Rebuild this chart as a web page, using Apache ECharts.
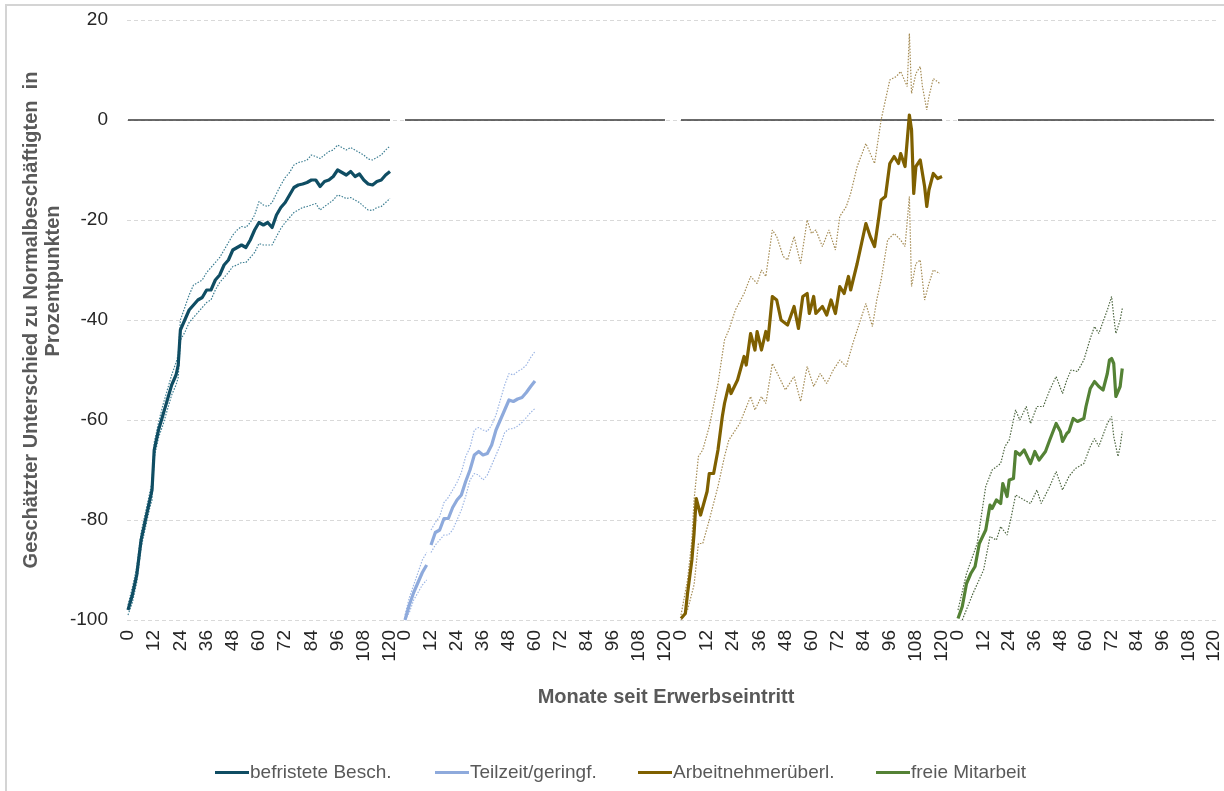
<!DOCTYPE html>
<html>
<head>
<meta charset="utf-8">
<script src="https://cdn.jsdelivr.net/npm/echarts@6/dist/echarts.min.js"></script>
<style>
html,body{margin:0;padding:0;background:#fff;}
#chart{width:1224px;height:791px;}
</style>
</head>
<body>
<div id="chart"></div>
<script>
// ---------- data ----------
const seriesNames = ['befristete Besch.', 'Teilzeit/geringf.', 'Arbeitnehmerüberl.', 'freie Mitarbeit'];
const yTicks = [-100, -80, -60, -40, -20, 0, 20];
const xTicks = [0, 12, 24, 36, 48, 60, 72, 84, 96, 108, 120];

// Panel 1: befristete Besch.
const months1 = [0,2,4,6,8,10,11,12,14,16,18,20,22,23,24,26,28,30,32,34,36,38,40,42,44,46,48,50,52,54,56,58,60,62,64,66,68,70,72,74,76,78,80,82,84,86,88,90,92,94,96,98,100,102,104,106,108,110,112,114,116,118,120];
const mid1 = [-98,-95,-91,-84,-80,-76,-74,-66,-62,-59,-56,-53,-51,-49,-42,-40,-38,-37,-36,-35.5,-34,-34,-32,-31,-29,-28,-26,-25.5,-25,-25.5,-24,-22,-20.5,-21,-20.5,-21.5,-19,-17.5,-16.5,-15,-13.5,-13,-12.8,-12.5,-12,-12,-13.3,-12.3,-12,-11.3,-10,-10.5,-11,-10.3,-11.3,-10.8,-12,-12.8,-13,-12.3,-12,-11,-10.3];
const up1 = [-97,-93.5,-89.5,-82.5,-78.5,-74.5,-72.5,-64.5,-60.5,-57,-54,-51,-48.5,-47,-40,-37.5,-35,-33,-32.5,-32,-30.5,-29.5,-28.5,-27.5,-26,-24.5,-23,-22,-21.3,-21.5,-20.5,-19,-16.3,-17,-17.3,-16.5,-14.7,-13,-11.5,-10.5,-9,-8.5,-8.3,-8,-7,-7.3,-7.7,-7,-6.3,-6,-5,-5.5,-6,-5.5,-6,-6.5,-7,-7.8,-8,-7.5,-7,-6,-5.2];
const lo1 = [-99,-96.5,-92.5,-85.5,-81.5,-77.5,-76,-67.5,-63.5,-61,-58,-55,-53,-51.5,-44,-42.5,-40.5,-39.5,-38.5,-37.5,-36.5,-36,-34,-32.5,-31.5,-30.5,-29.3,-29,-28.5,-28.5,-27.5,-26.5,-24.7,-25,-25,-25,-23.3,-21.7,-20.5,-19.5,-18.5,-18,-17.5,-17.3,-17,-16.7,-18,-17.3,-16.7,-16,-15,-15.3,-15.7,-15.5,-16,-16.5,-17.3,-18,-18.1,-17.5,-17.3,-16.5,-15.7];

// Panel 2: Teilzeit/geringf.
const months2 = [0,2,4,6,8,10,11,12,14,16,18,20,22,24,26,28,30,32,34,36,38,40,42,44,46,48,50,52,54,56,58,60];
const mid2 = [-100,-97,-94.5,-92.5,-90.5,-89,null,-85,-82.5,-82,-79.7,-79.7,-77.5,-76,-75,-72.3,-70,-67,-66.3,-67,-66.7,-65,-62,-60,-58,-56,-56.3,-55.8,-55.5,-54.5,-53.3,-52.2];
const up2 = [-99,-95.5,-93,-90.5,-88,-86.5,null,-82,-80.5,-79.3,-76.5,-75.5,-74,-72.5,-70.5,-67.3,-65.5,-62,-61.5,-62,-62.3,-61,-59,-56,-53,-50.7,-51,-50.3,-49.8,-49,-47.5,-46.3];
const lo2 = [-100,-98.5,-96,-94.5,-93,-92,null,-86.5,-85,-84,-83,-83,-82,-80,-78,-75.3,-72,-70.7,-71,-72,-71,-69,-67,-65,-62.5,-61.8,-61.7,-61.2,-60.5,-59.5,-58.5,-57.7];

// Panel 3: Arbeitnehmerüberl.
const months3 = [0,2,3,5,6,7,9,12,13,15,17,19,20,22,23,26,29,30,32,34,35,37,39,40,42,44,46,49,52,54,56,58,59,61,62,65,67,69,71,73,75,77,78,81,83,85,87,89,91,92,94,96,98,100,101,103,105,106,107,108,110,112,113,114,116,118,120];
const mid3 = [-99.7,-98.7,-94.7,-88,-82.7,-75.7,-79,-74.3,-70.7,-70.7,-66,-59.3,-56.7,-53,-54.7,-52,-47.3,-49,-42.7,-46,-42.3,-46,-42.3,-44,-35.3,-36,-40,-41,-37.3,-41.7,-35.3,-34.7,-38.7,-35.3,-38.7,-37.3,-39,-36,-38.7,-33.3,-34.7,-31.3,-34,-28.7,-24.7,-20.7,-23.3,-25.3,-19.3,-16,-15.3,-8.7,-7.3,-8.7,-6.7,-9.3,1,-2,-14.7,-9.3,-8,-13.3,-17.3,-14,-10.7,-11.7,-11.3];
const monthsUp3 = [0,3,5,6,8,10,13,17,20,22,25,29,32,35,37,39,42,44,47,49,52,55,58,60,62,65,68,71,73,76,78,81,85,89,92,96,99,101,104,105,106,108,110,111,113,114,116,119];
const up3 = [-99,-92,-84,-76,-67.3,-66,-61.3,-52.7,-44,-42,-38,-34.7,-31.3,-32.7,-30,-31.3,-22,-23.3,-27.3,-28,-23.3,-28.7,-20,-22.7,-22,-25.3,-22,-26,-19.3,-17.3,-14.7,-9.3,-4.7,-8.7,0,8,8.7,9.7,6.7,17.3,5.3,9.3,10.7,6.7,2,4.7,8.3,7.3];
const monthsLo3 = [0,3,6,8,10,13,17,20,22,27,32,34,37,39,42,45,48,52,55,58,61,64,67,70,73,76,79,82,85,88,90,92,95,98,101,103,105,106,108,110,112,114,116,119];
const lo3 = [-100,-98,-93,-84.7,-84.7,-80,-73.3,-67.3,-64,-60.7,-55.3,-58,-55.3,-56.7,-48.7,-51.3,-54,-51.3,-56.3,-49.3,-53.3,-50.7,-52.7,-50,-48,-49.3,-44.7,-40.7,-36.7,-41.3,-36,-32,-24,-22.7,-24,-25.3,-15.3,-33.3,-28.7,-28,-36,-32.7,-30,-30.7];

// Panel 4: freie Mitarbeit
const months4 = [0,2,4,6,8,10,13,15,16,18,20,21,23,24,26,27,29,31,34,36,38,41,43,46,48,49,51,52,54,56,59,60,62,64,66,68,70,71,72,73,74,76,77];
const mid4 = [-99.7,-97.3,-92.7,-90.7,-89.3,-84.7,-82,-77,-77.7,-76,-76.7,-72.7,-75.3,-72,-71.7,-66.3,-67,-66,-68.7,-66.3,-68,-66.3,-64,-60.7,-62.3,-64.3,-62.7,-62.3,-59.7,-60.3,-59.7,-57.3,-53.7,-52.3,-53.3,-54,-50.7,-48,-47.7,-48.7,-55.3,-53.3,-49.7];
const monthsUp4 = [0,4,9,13,16,20,22,24,27,29,32,34,37,40,43,46,49,51,53,56,59,62,64,66,70,72,73,74,76,77];
const up4 = [-98,-90.7,-84.7,-73.3,-70,-68.7,-65.3,-64,-58,-60,-57.3,-60.7,-57.3,-57.3,-54,-51.3,-54.7,-52,-50,-50.3,-48,-43.7,-41.3,-42.7,-38,-35.3,-39.3,-42.7,-40,-37.7];
const monthsLo4 = [2,7,12,15,18,20,23,25,27,31,34,37,39,43,46,49,52,55,59,62,64,66,70,72,73,75,76,77];
const lo4 = [-100,-94.7,-90,-83.3,-84,-81.3,-83,-79.3,-75,-76,-76.7,-74,-76.7,-73.3,-70.3,-74,-71.3,-69.7,-68.7,-65.3,-63.7,-65.3,-60.7,-59.3,-63.3,-67.3,-65.3,-62.3];

// ---------- build ----------
function pairs(xs, ys) { return xs.map((x, i) => [x, ys[i]]); }

const FONT = 'Liberation Sans, Arial, sans-serif';
const mainColors = ['#0F4D63', '#8EAADC', '#7F6000', '#548235'];
const bandColors = ['#3E7F93', '#9DB6E4', '#A58C55', '#4D6640'];

const panels = [
  {mid: pairs(months1, mid1), up: pairs(months1, up1), lo: pairs(months1, lo1)},
  {mid: pairs(months2, mid2), up: pairs(months2, up2), lo: pairs(months2, lo2)},
  {mid: pairs(months3, mid3), up: pairs(monthsUp3, up3), lo: pairs(monthsLo3, lo3)},
  {mid: pairs(months4, mid4), up: pairs(monthsUp4, up4), lo: pairs(monthsLo4, lo4)}
];

const panelLeft = [128, 405, 681, 958];
const panelWidth = [262, 260, 261, 256];
const legendLeft = [210, 430, 633, 871];
const TOP = 20, H = 600;

const grids = [{left: 127, top: TOP, width: 1091, height: H}];
const xAxes = [{gridIndex: 0, type: 'value', min: 0, max: 1, show: false}];
const yAxes = [{
  gridIndex: 0, type: 'value', min: yTicks[0], max: yTicks[yTicks.length - 1], interval: 20,
  axisLine: {show: false}, axisTick: {show: false},
  axisLabel: {fontSize: 19, color: '#262626', margin: 19, fontFamily: FONT},
  splitLine: {lineStyle: {color: '#d9d9d9', type: [4, 3], width: 1}}
}];
const series = [];
const legends = [];

panels.forEach((p, i) => {
  const g = i + 1;
  grids.push({left: panelLeft[i], top: TOP, width: panelWidth[i], height: H});
  xAxes.push({
    gridIndex: g, type: 'value', min: xTicks[0], max: xTicks[xTicks.length - 1], interval: 12,
    axisLine: {show: false}, axisTick: {show: false}, splitLine: {show: false},
    axisLabel: {rotate: 90, fontSize: 19, color: '#262626', margin: 10, fontFamily: FONT,
      showMinLabel: true, showMaxLabel: true}
  });
  yAxes.push({gridIndex: g, type: 'value', min: -100, max: 20, show: false});
  series.push({
    type: 'line', xAxisIndex: g, yAxisIndex: g, data: [[0, 0], [120, 0]],
    showSymbol: false, silent: true, lineStyle: {color: '#3a3a3a', width: 1.6}, z: 1
  });
  series.push({
    name: 'band' + i + 'u', type: 'line', xAxisIndex: g, yAxisIndex: g, data: p.up,
    showSymbol: false, silent: true, connectNulls: false,
    lineStyle: {color: bandColors[i], width: 1.2, type: [1.5, 1.5]}, z: 2
  });
  series.push({
    name: 'band' + i + 'l', type: 'line', xAxisIndex: g, yAxisIndex: g, data: p.lo,
    showSymbol: false, silent: true, connectNulls: false,
    lineStyle: {color: bandColors[i], width: 1.2, type: [1.5, 1.5]}, z: 2
  });
  series.push({
    name: seriesNames[i], type: 'line', xAxisIndex: g, yAxisIndex: g, data: p.mid,
    showSymbol: false, connectNulls: false, color: mainColors[i],
    lineStyle: {color: mainColors[i], width: 3.2, join: 'round'}, z: 3
  });
  legends.push({
    data: [{name: seriesNames[i], icon: 'rect', itemStyle: {color: mainColors[i]}}],
    top: 758, left: legendLeft[i],
    itemWidth: 34, itemHeight: 3, selectedMode: false,
    textStyle: {fontSize: 19, color: '#595959', fontFamily: FONT, padding: [0, 0, 0, -4]}
  });
});

const chart = echarts.init(document.getElementById('chart'), null, {renderer: 'canvas'});
chart.setOption({
  animation: false,
  backgroundColor: '#ffffff',
  grid: grids,
  xAxis: xAxes,
  yAxis: yAxes,
  series: series,
  legend: legends,
  graphic: [
    {type: 'rect', shape: {x: 6, y: 5, width: 1240, height: 820}, style: {fill: 'none', stroke: '#d4d4d4', lineWidth: 2}, silent: true},
    {type: 'text', x: 666, y: 697, style: {text: 'Monate seit Erwerbseintritt', fontSize: 20, fontWeight: 'bold', fill: '#595959', textAlign: 'center', textVerticalAlign: 'middle', fontFamily: FONT}},
    {type: 'text', x: 31, y: 320, rotation: Math.PI / 2, style: {text: 'Geschätzter Unterschied zu Normalbeschäftigten  in', fontSize: 20, fontWeight: 'bold', fill: '#595959', textAlign: 'center', textVerticalAlign: 'middle', fontFamily: FONT}},
    {type: 'text', x: 53, y: 281, rotation: Math.PI / 2, style: {text: 'Prozentpunkten', fontSize: 20, fontWeight: 'bold', fill: '#595959', textAlign: 'center', textVerticalAlign: 'middle', fontFamily: FONT}}
  ]
});
</script>
</body>
</html>
